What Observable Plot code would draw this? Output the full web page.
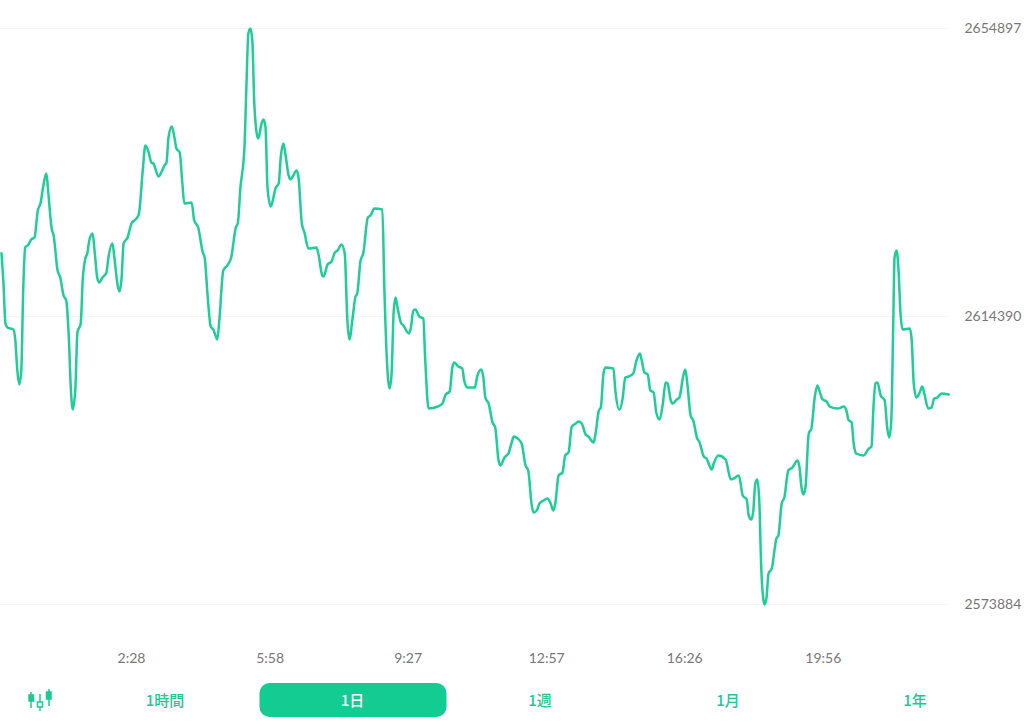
<!DOCTYPE html>
<html lang="ja">
<head>
<meta charset="utf-8">
<script src="https://cdn.jsdelivr.net/npm/d3@7"></script>
<script src="https://cdn.jsdelivr.net/npm/@observablehq/plot@0.6"></script>
<style>
html,body{margin:0;padding:0;background:#fff;width:1024px;height:726px;overflow:hidden}
#chart svg{display:block}
#tabs{position:relative;width:1024px;height:51px;font-family:"Noto Sans CJK JP",Lato,sans-serif;font-weight:500;font-size:15px;color:#1bc993}
#tabs span{position:absolute;top:8px;height:34px;line-height:34px;text-align:center;transform:translateX(-50%)}
#tabs span.on{width:187px;background:#13cc92;color:#fff;border-radius:10px}
#tabs svg{position:absolute;left:0;top:0}
</style>
</head>
<body>
<div id="chart"></div>
<div id="tabs"></div>
<script>
// minutes since midnight (negative = previous day)
const minutes = [-49,-46,-43,-40,-31,-28,-25,-22,-19,-16,-13,-8,-4,1,6,10,15,19,22,27,30,36,40,45,49,53,56,59,63,66,71,74,78,81,84,89,92,96,99,104,110,113,119,122,127,130,133,136,142,148,154,159,165,169,174,178,181,189,193,198,201,204,209,213,216,221,225,228,239,243,249,256,259,263,268,272,278,281,287,293,299,
306,309,313,318,319,322,325,328,331,334,339,340,345,348,351,354,359,363,366,371,374,378,381,386,389,393,398,401,406,410,416,428,431,437,439,445,451,456,460,466,471,475,478,483,487,490,495,499,506,510,516,528,531,536,539,542,545,548,551,556,560,568,571,575,578,584,590,593,
598,612,619,624,630,634,637,643,649,652,657,668,672,678,681,684,689,695,699,704,707,713,719,724,727,733,739,745,749,754,757,762,766,772,778,783,787,790,795,801,805,810,815,821,825,830,836,840,848,851,856,859,863,866,878,881,887,892,896,901,908,913,918,921,925,930,934,939,943,948,953,957,960,965,968,974,978,984,987,990,995,999,
1005,1008,1015,1019,1027,1030,1037,1048,1056,1060,1068,1074,1080,1083,1087,1090,1093,1096,1099,1102,1105,1107,1110,1113,1118,1122,1125,1128,1133,1137,1143,1149,1157,1160,1163,1166,1169,1174,1178,1183,1187,1190,1195,1201,1206,1218,1227,1231,1234,1239,1242,1246,1257,1265,1269,1272,1275,1278,1283,1289,1293,1296,1299,1302,1304,1307,1310,1313,1316,1327,1330,1333,1337,1342,1346,1349,1355,1360,1364,1369,1375,1386];
const prices = [2623290,2619030,2613410,2612840,2612560,2611010,2606800,2604830,2606800,2618470,2624100,2624520,2625220,2625500,2629300,2630280,2633100,2634500,2631690,2626770,2625780,2620860,2619880,2617340,2616640,2611440,2604400,2601310,2604400,2612140,2613410,2619450,2622550,2623250,2625080,2626060,2623670,2619880,2619170,2619880,2620580,2622690,2624660,2622690,2618750,2617910,2619880,2624660,2625500,2627470,2628030,2628740,2634930,2638440,2637460,2636050,2635910,2634080,2634640,2635630,2636050,2639570,2641110,2639570,2638020,2637460,2633100,2630280,2630420,2627890,2626910,2623390,2622550,2617630,2612980,2612560,2611160,2613830,2620860,2621560,2622690,
2626910,2627470,2632530,2636610,2638020,2646600,2654190,2654897,2653210,2644350,2639570,2639430,2641540,2642100,2640970,2632530,2629860,2631130,2632390,2633100,2636750,2638720,2637320,2634220,2633660,2634220,2634930,2633940,2627470,2626200,2623950,2624100,2623250,2620160,2620020,2621700,2622130,2623390,2623670,2624520,2623250,2613830,2611160,2614250,2617060,2617630,2622270,2623250,2628310,2628600,2629580,2629440,2618470,2606370,2604260,2606370,2614810,2617060,2615660,2613550,2613120,2612000,2612700,2615230,2615370,2614390,2614110,2608200,
2601450,2601730,2602150,2603420,2603840,2607220,2607920,2607360,2607080,2605390,2604400,2604400,2606090,2606930,2605810,2603000,2602150,2599480,2598780,2594140,2593430,2594560,2595120,2596670,2597510,2597230,2596530,2593430,2592730,2588090,2586820,2587100,2588090,2588510,2588790,2588090,2587100,2588090,2592030,2592450,2594840,2595260,2598920,2599340,2599620,2599340,2597790,2597510,2596670,2597930,2601170,2601590,2606370,2607220,2607080,2603980,2601310,2602860,2605810,2605950,2606370,2608200,2609190,2608200,2606510,2606230,2603980,2603700,2600890,2599900,2602150,2605110,2604970,2602580,2602150,2602720,2603000,2606090,2606930,2604970,2600470,2599760,
2597230,2596810,2594700,2594420,2592870,2593710,2594840,2594280,2591460,2591600,2592030,2589210,2588650,2586400,2585840,2587100,2590900,2591460,2588510,2579090,2574730,2573884,2574870,2578240,2578950,2581480,2583170,2583590,2588090,2588930,2592730,2593150,2594140,2593150,2590340,2589350,2590340,2597930,2598640,2603000,2604690,2603980,2602720,2602430,2601730,2601450,2601730,2601170,2599900,2599480,2596530,2595120,2594840,2595820,2596110,2601590,2604970,2605110,2603280,2602580,2598640,2597370,2599760,2613410,2622690,2623670,2620860,2614810,2612560,2612700,2611010,2604970,2603000,2603700,2604540,2603560,2601450,2601590,2602860,2603000,2603560,2603420];
const yTicks = [2654897, 2614390, 2573884];
const xTicks = [148, 358, 567, 777, 986, 1196];
const xLabels = ["2:28", "5:58", "9:27", "12:57", "16:26", "19:56"];
const tabNames = ["1時間", "1日", "1週", "1月", "1年"];
const tabCenters = [165, 352.5, 540, 728, 915];
const activeTab = "1日";

const rows = minutes.map((t, i) => ({t, p: prices[i]}));
const labelOf = new Map(xTicks.map((t, i) => [t, xLabels[i]]));
const lineColor = "#20cc97";

const chart = Plot.plot({
  width: 1024, height: 675,
  marginLeft: 0, marginRight: 76, marginTop: 28, marginBottom: 35,
  style: {fontFamily: "Lato, sans-serif", background: "#fff"},
  x: {domain: [-50.5, 1385.7], range: [0, 948]},
  y: {domain: [2573884, 2654897], range: [604, 28]},
  marks: [
    Plot.ruleY(yTicks, {stroke: "#f3f5f5", strokeWidth: 1, strokeOpacity: 1}),
    Plot.axisY(yTicks, {anchor: "right", tickSize: 0, tickPadding: 16, label: null, fontSize: 14, color: "#777", tickFormat: d => String(d)}),
    Plot.axisX(xTicks, {anchor: "bottom", tickSize: 0, tickPadding: 13, label: null, fontSize: 14, color: "#777", tickFormat: d => labelOf.get(d)}),
    Plot.line(rows, {x: "t", y: "p", curve: "monotone-x", stroke: lineColor, strokeWidth: 2.5})
  ]
});
document.getElementById("chart").append(chart);

const tabs = document.getElementById("tabs");
tabNames.forEach((n, i) => {
  const s = document.createElement("span");
  s.textContent = n;
  s.style.left = tabCenters[i] + "px";
  if (n === activeTab) s.className = "on";
  tabs.append(s);
});
tabs.insertAdjacentHTML("beforeend", `<svg width="60" height="51" fill="none" stroke="#1bc993" stroke-width="1.5">
  <path d="M31 17V33M40 19V36M49 14V31"/>
  <rect x="29" y="20" width="4.5" height="6" fill="#1bc993"/>
  <rect x="37.5" y="27" width="5" height="5" fill="#fff"/>
  <rect x="46.5" y="17" width="4.5" height="7" fill="#1bc993"/>
</svg>`);
</script>
</body>
</html>
